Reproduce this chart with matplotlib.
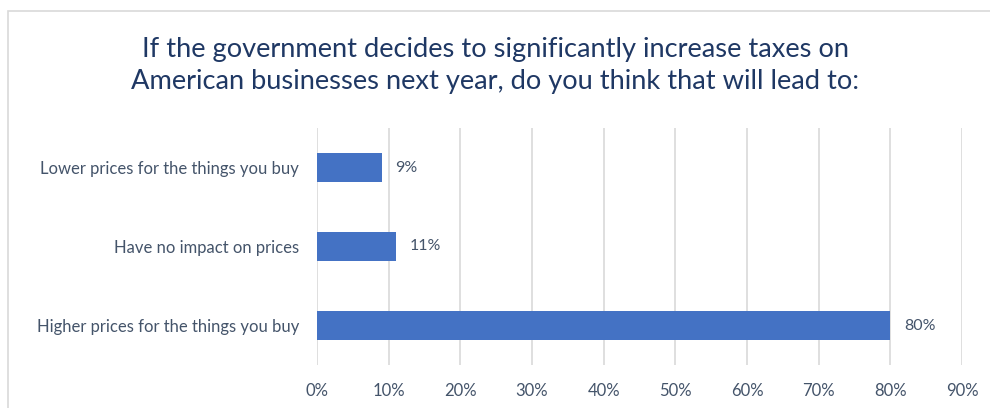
"""Horizontal bar chart: expected effect of higher business taxes on prices."""
from matplotlib import pyplot
from matplotlib.patches import Rectangle
from matplotlib.ticker import PercentFormatter

categories = ['Higher prices for the things you buy',
              'Have no impact on prices',
              'Lower prices for the things you buy']
values = [80, 11, 9]
ticks = [0, 10, 20, 30, 40, 50, 60, 70, 80, 90]

bar_color = '#4472C4'
text_color = '#44546A'
title_color = '#1F3864'
pyplot.rcParams['font.family'] = ['Lato', 'DejaVu Sans']

figure = pyplot.figure(figsize=(9.9, 4.08), dpi=100)

# light grey chart border, only top and left show in the crop
figure.patches.append(Rectangle((8 / 990, -0.1), 1.2, 1 - 11 / 408 + 0.1,
                                transform=figure.transFigure, fill=False,
                                edgecolor='#D9D9D9', linewidth=1.2))

axes = figure.add_axes([317 / 990, 1 - 365 / 408, 645 / 990, 237 / 408])
positions = range(len(categories))
axes.barh(positions, values, height=0.36, color=bar_color, zorder=3)
for y, value in zip(positions, values):
	axes.text(value + 1.9, y, f'{value}%', va='center', ha='left',
	          fontsize=11.5, color=text_color)

axes.set_xlim(0, 90)
axes.set_ylim(-0.5, len(categories) - 0.5)
axes.set_xticks(ticks)
axes.xaxis.set_major_formatter(PercentFormatter(decimals=0))
axes.set_yticks(list(positions))
axes.set_yticklabels(categories)
axes.tick_params(axis='both', length=0, labelsize=12, labelcolor=text_color)
axes.tick_params(axis='x', pad=13)
axes.tick_params(axis='y', pad=13)
axes.grid(axis='x', color='#D9D9D9', linewidth=1.2, zorder=0)
for spine in axes.spines.values():
	spine.set_visible(False)

figure.text(0.5, 1 - 65 / 408,
            'If the government decides to significantly increase taxes on\n'
            'American businesses next year, do you think that will lead to:',
            ha='center', va='center', fontsize=19.6, color=title_color,
            linespacing=1.35)

figure.savefig('out.png', dpi=100)
